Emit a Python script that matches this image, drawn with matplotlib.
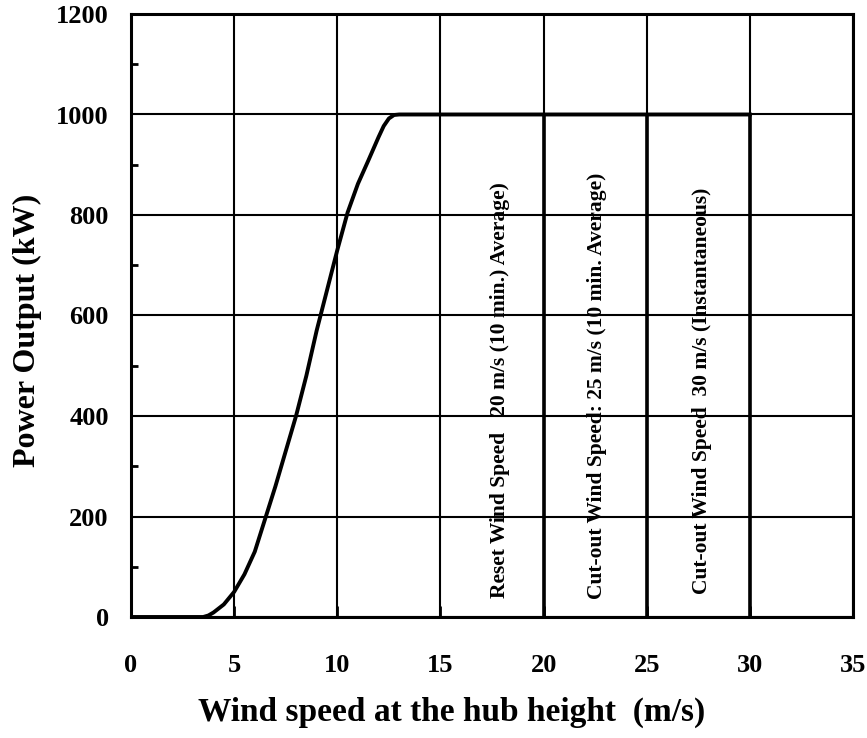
import matplotlib
matplotlib.use("Agg")
import matplotlib.pyplot as plt
from matplotlib.ticker import MultipleLocator

plt.rcParams["font.family"] = ["Liberation Serif", "DejaVu Serif"]
plt.rcParams["font.weight"] = "bold"

# Power curve
wind_speed = [0, 3.5, 3.75, 4, 4.5, 5, 5.5, 6, 6.5, 7, 7.5, 8, 8.5, 9, 9.5,
              10, 10.5, 11, 11.5, 12, 12.25, 12.5, 12.75, 13, 30]
power = [0, 0, 3, 9, 25, 50, 85, 130, 195, 260, 330, 400, 480, 570, 650,
         730, 805, 862, 908, 955, 977, 992, 999, 1000, 1000]

# Vertical marker lines and their notes
marker_speeds = [20, 25, 30]
marker_top = 1000
note_x = [17.9, 22.6, 27.7]
note_y = [38, 36, 46]
note_labels = [
    "Reset Wind Speed   20 m/s (10 min.) Average)",
    "Cut-out Wind Speed: 25 m/s (10 min. Average)",
    "Cut-out Wind Speed  30 m/s (Instantaneous)",
]

x_ticks = [0, 5, 10, 15, 20, 25, 30, 35]
y_ticks = [0, 200, 400, 600, 800, 1000, 1200]

fig = plt.figure(figsize=(8.67, 7.38), dpi=100)
ax = fig.add_axes([131 / 867, 121 / 738, 722 / 867, 603 / 738])

ax.set_xlim(0, 35)
ax.set_ylim(0, 1200)
ax.set_xticks(x_ticks)
ax.set_yticks(y_ticks)
ax.yaxis.set_minor_locator(MultipleLocator(100))

ax.grid(True, which="major", color="black", linewidth=1.5)
ax.set_axisbelow(False)

# Power curve
ax.plot(wind_speed, power, color="black", linewidth=2.8,
        solid_joinstyle="round")

# Cut-out / reset markers
ax.vlines(marker_speeds, 0, marker_top, color="black", linewidth=2.6)

for x, y, label in zip(note_x, note_y, note_labels):
    ax.text(x, y, label, rotation=90, ha="center", va="bottom",
            fontsize=15.5, fontweight="bold")

for side in ax.spines.values():
    side.set_linewidth(2.2)
    side.set_color("black")

ax.tick_params(axis="x", which="major", direction="in", length=8, width=2,
               pad=27, labelsize=19)
ax.tick_params(axis="y", which="major", direction="in", length=0, width=2,
               pad=16, labelsize=19)
ax.tick_params(axis="y", which="minor", direction="in", length=5, width=2)
for lab in ax.get_xticklabels() + ax.get_yticklabels():
    lab.set_fontweight("bold")

fig.text(452 / 867, 1 - 712 / 738, "Wind speed at the hub height  (m/s)",
         ha="center", va="center", fontsize=24, fontweight="bold")
fig.text(27 / 867, 1 - 330 / 738, "Power Output (kW)", rotation=90,
         ha="center", va="center", fontsize=23, fontweight="bold")

fig.savefig("out.png", dpi=100)
